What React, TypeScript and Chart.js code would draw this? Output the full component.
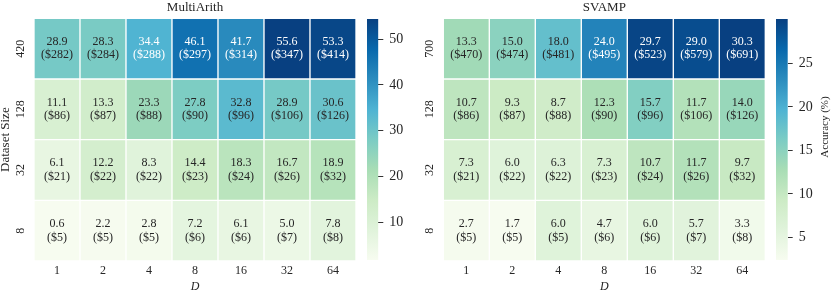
import React, { useEffect, useRef } from 'react';
import { Chart, registerables } from 'chart.js';

Chart.register(...registerables);

const FONT = 'Liberation Serif';
const TEXT_DARK = '#262626';

const D_LABELS = ['1', '2', '4', '8', '16', '32', '64'];

const MA_SIZES = ['420', '128', '32', '8'];
const MA_ACC = [
  [28.9, 28.3, 34.4, 46.1, 41.7, 55.6, 53.3],
  [11.1, 13.3, 23.3, 27.8, 32.8, 28.9, 30.6],
  [6.1, 12.2, 8.3, 14.4, 18.3, 16.7, 18.9],
  [0.6, 2.2, 2.8, 7.2, 6.1, 5.0, 7.8],
];
const MA_COST = [
  [282, 284, 288, 297, 314, 347, 414],
  [86, 87, 88, 90, 96, 106, 126],
  [21, 22, 22, 23, 24, 26, 32],
  [5, 5, 5, 6, 6, 7, 8],
];
const MA_RANGE = [1.8, 54.4];
const MA_CBAR_TICKS = [10, 20, 30, 40, 50];

const SV_SIZES = ['700', '128', '32', '8'];
const SV_ACC = [
  [13.3, 15.0, 18.0, 24.0, 29.7, 29.0, 30.3],
  [10.7, 9.3, 8.7, 12.3, 15.7, 11.7, 14.0],
  [7.3, 6.0, 6.3, 7.3, 10.7, 11.7, 9.7],
  [2.7, 1.7, 6.0, 4.7, 6.0, 5.7, 3.3],
];
const SV_COST = [
  [470, 474, 481, 495, 523, 579, 691],
  [86, 87, 88, 90, 96, 106, 126],
  [21, 22, 22, 23, 24, 26, 32],
  [5, 5, 5, 6, 6, 7, 8],
];
const SV_RANGE = [2.4, 30.1];
const SV_CBAR_TICKS = [5, 10, 15, 20, 25];

const GNBU = ['#f7fcf0', '#e0f3db', '#ccebc5', '#a8ddb5', '#7bccc4', '#4eb3d3', '#2b8cbe', '#0868ac', '#084081'];

function hexToRgb(h: string) {
  return [parseInt(h.slice(1, 3), 16), parseInt(h.slice(3, 5), 16), parseInt(h.slice(5, 7), 16)];
}
const GNBU_RGB = GNBU.map(hexToRgb);

function cmapRgb(v: number, range: number[]) {
  let t = (v - range[0]) / (range[1] - range[0]);
  t = Math.max(0, Math.min(1, t));
  const p = t * (GNBU_RGB.length - 1);
  const i = Math.min(Math.floor(p), GNBU_RGB.length - 2);
  const f = p - i;
  const a = GNBU_RGB[i], b = GNBU_RGB[i + 1];
  return [0, 1, 2].map(k => a[k] + (b[k] - a[k]) * f);
}
function cmap(v: number, range: number[]) {
  const c = cmapRgb(v, range);
  return `rgb(${c[0].toFixed(0)},${c[1].toFixed(0)},${c[2].toFixed(0)})`;
}
function textColor(v: number, range: number[]) {
  const c = cmapRgb(v, range).map(x => {
    const s = x / 255;
    return s <= 0.03928 ? s / 12.92 : Math.pow((s + 0.055) / 1.055, 2.4);
  });
  const lum = 0.2126 * c[0] + 0.7152 * c[1] + 0.0722 * c[2];
  return lum > 0.408 ? TEXT_DARK : '#ffffff';
}

const W = 831;
const H = 295;

function heatmapConfig(opts: {
  title: string; sizes: string[]; acc: number[][]; cost: number[][]; range: number[];
  left: number; right: number; showYTitle: boolean;
}): any {
  const { title, sizes, acc, cost, range, left, right, showYTitle } = opts;
  const datasets = sizes.map((s, r) => ({
    label: s,
    data: acc[r].map(() => [r, r + 1]),
    backgroundColor: acc[r].map(v => cmap(v, range)),
    borderColor: '#ffffff',
    borderWidth: 1,
    borderSkipped: false,
    barPercentage: 1,
    categoryPercentage: 1,
    grouped: false,
  }));
  const cellText = {
    id: 'cellText_' + title,
    afterDatasetsDraw(chart: any) {
      const { ctx } = chart;
      const xs = chart.scales.x, ys = chart.scales.y;
      ctx.save();
      ctx.font = `12px "${FONT}"`;
      ctx.textAlign = 'center';
      ctx.textBaseline = 'middle';
      acc.forEach((row, r) => row.forEach((v, c) => {
        const px = xs.getPixelForValue(c);
        const py = ys.getPixelForValue(r + 0.5);
        ctx.fillStyle = textColor(v, range);
        ctx.fillText(v.toFixed(1), px, py - 6.7);
        ctx.fillText(`($${cost[r][c]})`, px, py + 6.7);
      }));
      ctx.fillStyle = TEXT_DARK;
      ctx.font = `12px "${FONT}"`;
      sizes.forEach((s, r) => {
        const py = ys.getPixelForValue(r + 0.5);
        ctx.save();
        ctx.translate(chart.chartArea.left - 13, py);
        ctx.rotate(-Math.PI / 2);
        ctx.fillText(s, 0, 0);
        ctx.restore();
      });
      ctx.restore();
    },
  };
  return {
    type: 'bar',
    data: { labels: D_LABELS, datasets },
    options: {
      animation: false,
      responsive: false,
      devicePixelRatio: 1,
      events: [],
      layout: { padding: { left: left - 34, right: W - right, top: 0, bottom: 0 } },
      scales: {
        x: {
          type: 'category',
          grid: { display: false, drawTicks: false },
          border: { display: false },
          ticks: { font: { family: FONT, size: 12 }, color: TEXT_DARK, padding: 3, maxRotation: 0 },
          title: { display: true, text: 'D', font: { family: FONT, size: 12, style: 'italic' }, color: TEXT_DARK, padding: { top: 0, bottom: 1 } },
          afterFit: (s: any) => { s.height = 34; },
        },
        y: {
          type: 'linear',
          min: 0,
          max: 4,
          reverse: true,
          grid: { display: false, drawTicks: false },
          border: { display: false },
          ticks: { display: false },
          title: {
            display: showYTitle, text: 'Dataset Size',
            font: { family: FONT, size: 13, lineHeight: 0.8 }, color: TEXT_DARK, padding: 0,
          },
          afterFit: (s: any) => { s.width = 34; },
        },
      },
      plugins: {
        legend: { display: false },
        tooltip: { enabled: false },
        title: {
          display: true, text: title, fullSize: false,
          font: { family: FONT, size: 13, weight: 'normal', lineHeight: 1.2 },
          color: TEXT_DARK, padding: { top: 0, bottom: 2.7 },
        },
      },
    },
    plugins: [cellText],
  };
}

function colorbarConfig(opts: { range: number[]; ticks: number[]; left: number; right: number; label?: string }): any {
  const { range, ticks, left, right, label } = opts;
  const labelPlugin = {
    id: 'cbarLabel',
    afterDraw(chart: any) {
      if (!label) return;
      const { ctx } = chart;
      ctx.save();
      ctx.font = `11px "${FONT}"`;
      ctx.fillStyle = TEXT_DARK;
      ctx.textAlign = 'center';
      ctx.textBaseline = 'middle';
      ctx.translate(825, 127);
      ctx.rotate(-Math.PI / 2);
      ctx.fillText(label, 0, 0);
      ctx.restore();
    },
  };
  return {
    type: 'bar',
    data: {
      labels: [''],
      datasets: [{
        data: [[range[0], range[1]]],
        backgroundColor: (c: any) => {
          const chart = c.chart;
          const ys = chart.scales && chart.scales.y;
          if (!chart.chartArea || !ys) return GNBU[4];
          const g = chart.ctx.createLinearGradient(0, ys.getPixelForValue(range[0]), 0, ys.getPixelForValue(range[1]));
          GNBU.forEach((col, i) => g.addColorStop(i / (GNBU.length - 1), col));
          return g;
        },
        borderWidth: 0,
        barPercentage: 1,
        categoryPercentage: 1,
      }],
    },
    options: {
      animation: false,
      responsive: false,
      devicePixelRatio: 1,
      events: [],
      layout: { padding: { left, right: W - right - 40, top: 19, bottom: 35 } },
      scales: {
        x: { display: false },
        y: {
          position: 'right',
          min: range[0],
          max: range[1],
          afterBuildTicks: (s: any) => { s.ticks = ticks.map(v => ({ value: v })); },
          ticks: { font: { family: FONT, size: 14 }, color: TEXT_DARK, padding: 6 },
          grid: { display: true, drawOnChartArea: false, drawTicks: true, tickLength: 5, color: '#333333', tickColor: '#333333', tickWidth: 1 },
          border: { display: false },
          afterFit: (s: any) => { s.width = 40; },
        },
      },
      plugins: { legend: { display: false }, tooltip: { enabled: false }, title: { display: false } },
    },
    plugins: [labelPlugin],
  };
}

export default function App() {
  const r1 = useRef<HTMLCanvasElement>(null);
  const r2 = useRef<HTMLCanvasElement>(null);
  const r3 = useRef<HTMLCanvasElement>(null);
  const r4 = useRef<HTMLCanvasElement>(null);

  useEffect(() => {
    Chart.defaults.font.family = FONT;
    const charts = [
      new Chart(r1.current as HTMLCanvasElement, heatmapConfig({
        title: 'MultiArith', sizes: MA_SIZES, acc: MA_ACC, cost: MA_COST, range: MA_RANGE,
        left: 34, right: 356, showYTitle: true,
      })),
      new Chart(r2.current as HTMLCanvasElement, colorbarConfig({ range: MA_RANGE, ticks: MA_CBAR_TICKS, left: 367, right: 378.3 })),
      new Chart(r3.current as HTMLCanvasElement, heatmapConfig({
        title: 'SVAMP', sizes: SV_SIZES, acc: SV_ACC, cost: SV_COST, range: SV_RANGE,
        left: 443.3, right: 765.3, showYTitle: false,
      })),
      new Chart(r4.current as HTMLCanvasElement, colorbarConfig({ range: SV_RANGE, ticks: SV_CBAR_TICKS, left: 776, right: 787.7, label: 'Accuracy (%)' })),
    ];
    return () => charts.forEach(c => c.destroy());
  }, []);

  const cs: React.CSSProperties = { position: 'absolute', left: 0, top: 0, width: W, height: H };
  return (
    <div style={{ position: 'absolute', left: 0, top: 0, width: W, height: H, background: '#ffffff' }}>
      <canvas ref={r1} width={W} height={H} style={cs} />
      <canvas ref={r2} width={W} height={H} style={cs} />
      <canvas ref={r3} width={W} height={H} style={cs} />
      <canvas ref={r4} width={W} height={H} style={cs} />
    </div>
  );
}
